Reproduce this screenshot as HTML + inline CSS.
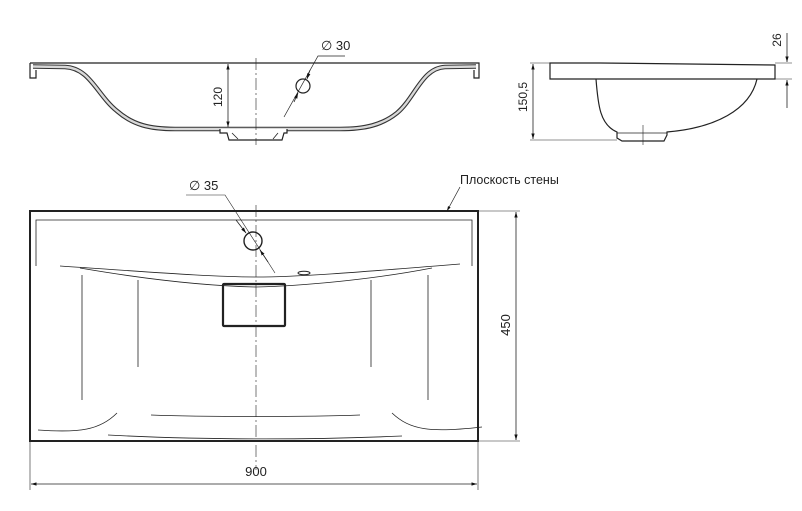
<!DOCTYPE html>
<html><head><meta charset="utf-8"><style>html,body{margin:0;padding:0;background:#fff}svg{display:block}</style></head>
<body>
<svg width="802" height="511" viewBox="0 0 802 511" xmlns="http://www.w3.org/2000/svg" font-family="Liberation Sans, DejaVu Sans, sans-serif" fill="none" stroke="#222">
<defs>
<marker id="a" viewBox="0 0 10 10" refX="10" refY="5" markerWidth="7" markerHeight="7" orient="auto-start-reverse"><path d="M0,2 L10,5 L0,8 z" fill="#111" stroke="none"/></marker>
</defs>
<!-- TOP LEFT section -->
<g>
<path d="M33,66.5 L65,67 C90,68 97,95 117,111 C133,125 150,129 175,129 L340,129 C365,129 382,125 397,113 C415,98 422,68 445,67 L476,66.5" stroke="#333" stroke-width="4.6"/>
<path d="M33,66.5 L65,67 C90,68 97,95 117,111 C133,125 150,129 175,129 L340,129 C365,129 382,125 397,113 C415,98 422,68 445,67 L476,66.5" stroke="#d8d8d8" stroke-width="2.4"/>
<path d="M30,63 L479,63 L479,78 L474,78 L474,70 M30,63 L30,78 L36,78 L36,70" stroke-width="1.2"/>
<path d="M220,129 L220,133 L227,133 L229,140 L282,140 L284,133 L287,133 L287,129" stroke-width="1.2" fill="#fff"/>
<path d="M232,133 L238,139 M278,133 L273,139" stroke-width="0.8"/>
</g>
<line x1="256" y1="58" x2="256" y2="145" stroke-width="0.6" stroke-dasharray="12,3,2,3"/>
<line x1="228" y1="64" x2="228" y2="127" stroke-width="0.8" marker-start="url(#a)" marker-end="url(#a)"/>
<text x="222" y="97" font-size="12" fill="#222" stroke="none" text-anchor="middle" transform="rotate(-90 222 97)">120</text>
<circle cx="303" cy="86" r="7" stroke-width="1.2"/>
<path d="M284,117 L318,56 L345,56" stroke-width="0.7"/>
<line x1="310" y1="70" x2="307" y2="79" stroke-width="0.8" marker-end="url(#a)"/>
<line x1="294" y1="102" x2="298" y2="93" stroke-width="0.8" marker-end="url(#a)"/>
<text x="321" y="50" font-size="13" fill="#222" stroke="none">∅ 30</text>

<!-- TOP RIGHT side view -->
<g stroke-width="1.2">
<path d="M550,63 L600,63 L775,65 L775,79 L550,79 Z"/>
<path d="M596,79 C598,105 600,125 617,132 L617,138 L622,141 L664,141 L667,135 L667,132 C715,128 750,110 757,79"/>
<line x1="617" y1="133" x2="667" y2="133" stroke-width="0.8"/>
</g>
<line x1="643" y1="125" x2="643" y2="145" stroke-width="0.6"/>
<line x1="530" y1="63" x2="550" y2="63" stroke-width="0.6"/>
<line x1="530" y1="140" x2="617" y2="140" stroke-width="0.6"/>
<line x1="533" y1="64" x2="533" y2="139" stroke-width="0.8" marker-start="url(#a)" marker-end="url(#a)"/>
<text x="527" y="97" font-size="12" fill="#222" stroke="none" text-anchor="middle" transform="rotate(-90 527 97)">150,5</text>
<line x1="775" y1="63" x2="792" y2="63" stroke-width="0.6"/>
<line x1="775" y1="79" x2="792" y2="79" stroke-width="0.6"/>
<line x1="787" y1="33" x2="787" y2="62" stroke-width="0.8" marker-end="url(#a)"/>
<line x1="787" y1="108" x2="787" y2="80" stroke-width="0.8" marker-end="url(#a)"/>
<text x="781" y="40" font-size="12" fill="#222" stroke="none" text-anchor="middle" transform="rotate(-90 781 40)">26</text>

<!-- PLAN VIEW -->
<rect x="30" y="211" width="448" height="230" stroke-width="2"/>
<path d="M36,266 L36,220 L472,220 L472,266" stroke-width="0.8"/>
<g stroke-width="0.8">
<path d="M60,266 C150,272 210,277 256,277 C300,277 360,272 460,264"/>
<path d="M80,268 C150,280 210,286 256,287 C300,286 370,280 432,268"/>
<line x1="82" y1="275" x2="82" y2="400"/>
<line x1="138" y1="280" x2="138" y2="367"/>
<line x1="371" y1="280" x2="371" y2="367"/>
<line x1="428" y1="275" x2="428" y2="400"/>
<path d="M38,430 C80,433 100,430 117,413"/>
<path d="M392,413 C410,430 430,433 482,427"/>
<path d="M151,415 C200,417 310,417 360,415"/>
<path d="M108,435 C200,440 310,440 402,436"/>
</g>
<ellipse cx="304" cy="273" rx="6" ry="1.8" stroke-width="1"/>
<rect x="223" y="284" width="62" height="42" stroke-width="2.2" rx="1"/>
<line x1="256" y1="205" x2="256" y2="470" stroke-width="0.6" stroke-dasharray="12,3,2,3"/>
<circle cx="253" cy="241" r="9" stroke-width="1.4"/>
<path d="M186,195 L225,195 L275,273" stroke-width="0.6"/>
<line x1="236" y1="220" x2="246" y2="233" stroke-width="0.8" marker-end="url(#a)"/>
<line x1="268" y1="262" x2="260" y2="250" stroke-width="0.8" marker-end="url(#a)"/>
<text x="189" y="190" font-size="13" fill="#222" stroke="none">∅ 35</text>
<line x1="460" y1="187" x2="447" y2="211" stroke-width="0.7" marker-end="url(#a)"/>
<text x="460" y="184" font-size="12.5" fill="#222" stroke="none">Плоскость стены</text>
<line x1="478" y1="211" x2="520" y2="211" stroke-width="0.6"/>
<line x1="478" y1="441" x2="520" y2="441" stroke-width="0.6"/>
<line x1="516" y1="212" x2="516" y2="440" stroke-width="0.8" marker-start="url(#a)" marker-end="url(#a)"/>
<text x="510" y="325" font-size="13" fill="#222" stroke="none" text-anchor="middle" transform="rotate(-90 510 325)">450</text>
<line x1="30" y1="441" x2="30" y2="490" stroke-width="0.6"/>
<line x1="478" y1="441" x2="478" y2="490" stroke-width="0.6"/>
<line x1="31" y1="484" x2="477" y2="484" stroke-width="0.8" marker-start="url(#a)" marker-end="url(#a)"/>
<text x="256" y="476" font-size="13" fill="#222" stroke="none" text-anchor="middle">900</text>
</svg>
</body></html>
